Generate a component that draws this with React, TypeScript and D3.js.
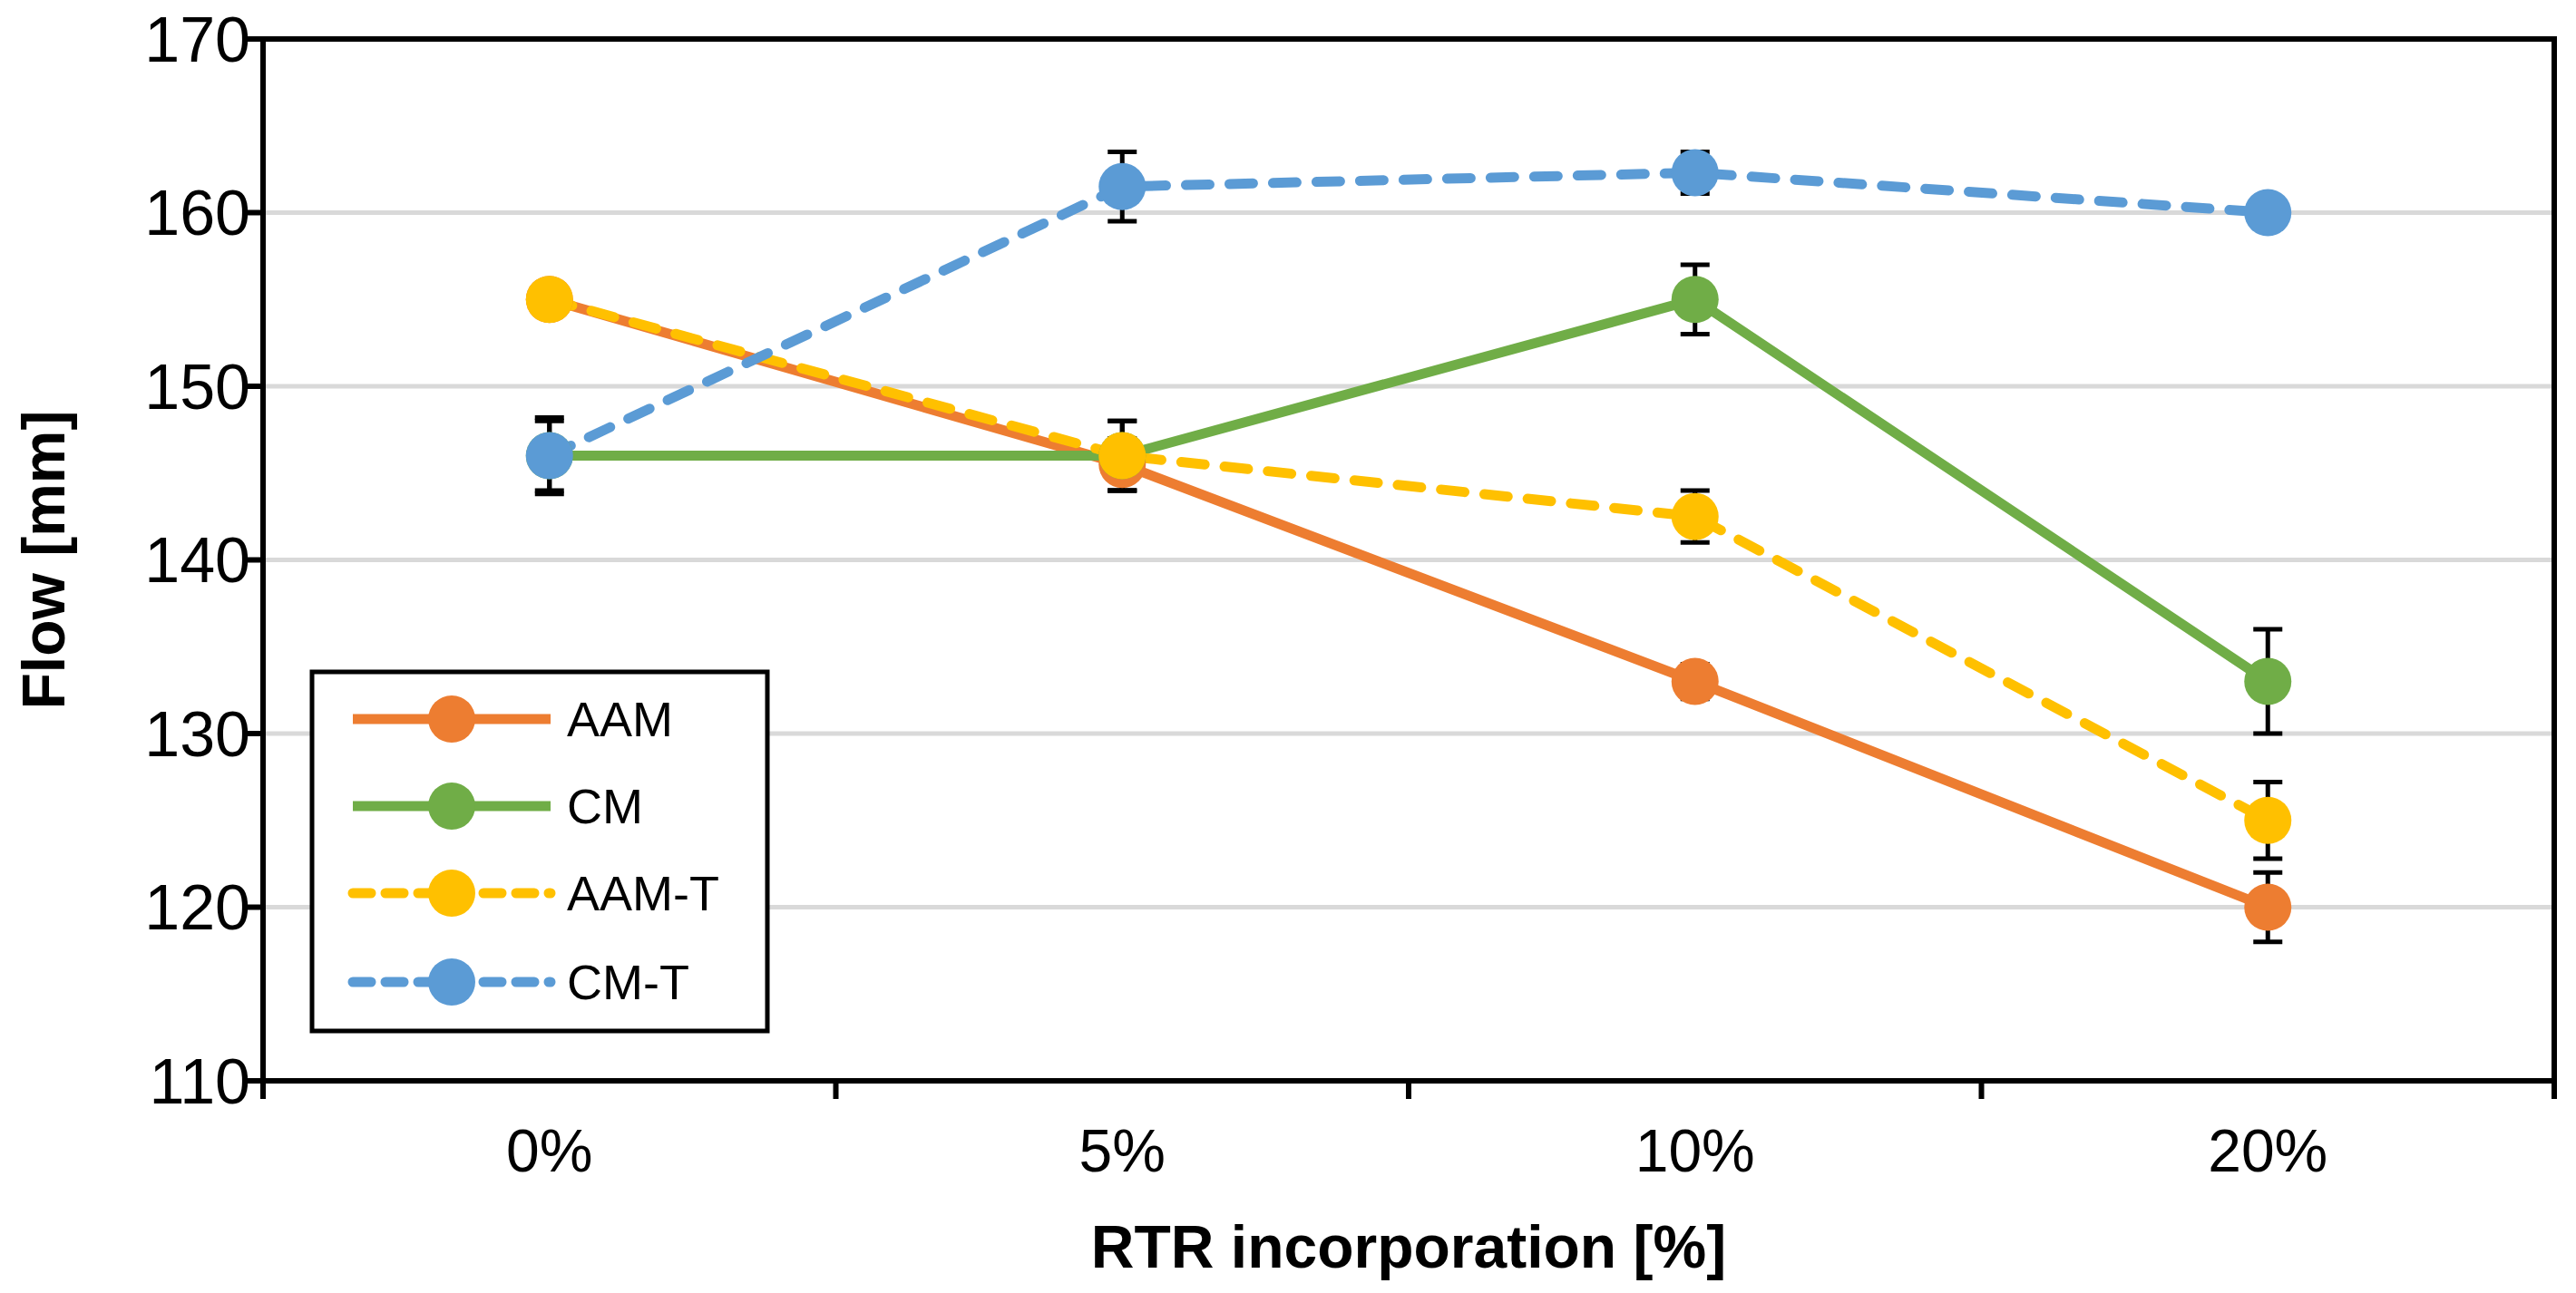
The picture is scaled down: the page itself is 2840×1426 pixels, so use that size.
import React from "react";
import * as d3 from "d3";

const categories = ["0%", "5%", "10%", "20%"];
const yTicks = [110, 120, 130, 140, 150, 160, 170];
const seriesNames = ["AAM", "CM", "AAM-T", "CM-T"];
const aam = [155, 145.5, 133, 120];
const aamErr = [0, 1.5, 1, 2];
const cm = [146, 146, 155, 133];
const cmErr = [2, 2, 2, 3];
const aamT = [155, 146, 142.5, 125];
const aamTErr = [0, 2, 1.5, 2.2];
const cmT = [146, 161.5, 162.3, 160];
const cmTErr = [2.2, 2, 1.2, 0];

const W = 2840, H = 1426;
const L = 290, R = 2816, T = 43, B = 1192;
const font = "Liberation Sans, Arial, sans-serif";

export default function App() {
  const x = d3.scaleBand<string>().domain(categories).range([L, R]);
  const y = d3.scaleLinear().domain([110, 170]).range([B, T]);
  const cx = (c: string) => (x(c) as number) + x.bandwidth() / 2;
  const series = [
    { name: seriesNames[0], v: aam, e: aamErr, color: "#ED7D31", dash: null },
    { name: seriesNames[1], v: cm, e: cmErr, color: "#70AD47", dash: null },
    { name: seriesNames[2], v: aamT, e: aamTErr, color: "#FFC000", dash: "26,22" },
    { name: seriesNames[3], v: cmT, e: cmTErr, color: "#5B9BD5", dash: "26,22" },
  ];
  const line = d3.line<number>().x((_, i) => cx(categories[i])).y((d) => y(d));
  const legY = [793, 889, 985, 1083];
  return (
    <svg width={W} height={H} style={{ position: "absolute", left: 0, top: 0, background: "#fff" }} fontFamily={font}>
      {yTicks.slice(1).map((t) => (
        <line key={t} x1={L} x2={R} y1={y(t)} y2={y(t)} stroke="#d9d9d9" strokeWidth={5} />
      ))}
      <line x1={L} x2={L} y1={T - 3} y2={B + 3} stroke="#000" strokeWidth={6} />
      <line x1={R} x2={R} y1={T - 3} y2={B + 20} stroke="#000" strokeWidth={6} />
      <line x1={L - 3} x2={R + 3} y1={B} y2={B} stroke="#000" strokeWidth={6} />
      <line x1={L - 3} x2={R + 3} y1={T} y2={T} stroke="#000" strokeWidth={6} />
      {yTicks.map((t) => (
        <g key={t}>
          <line x1={L - 20} x2={L} y1={y(t)} y2={y(t)} stroke="#000" strokeWidth={6} />
          <text x={L - 14} y={y(t)} dy="0.35em" textAnchor="end" fontSize={70}>{t}</text>
        </g>
      ))}
      {[...categories.map((c) => x(c) as number), R].map((v, i) => (
        <line key={i} x1={v} x2={v} y1={B} y2={B + 20} stroke="#000" strokeWidth={6} />
      ))}
      {categories.map((c) => (
        <text key={c} x={cx(c)} y={B + 100} textAnchor="middle" fontSize={66}>{c}</text>
      ))}
      <text x={(L + R) / 2} y={1398} textAnchor="middle" fontSize={66} fontWeight="bold">RTR incorporation [%]</text>
      <text transform={`translate(48,${(T + B) / 2}) rotate(-90)`} textAnchor="middle" dy="0.35em" fontSize={66} fontWeight="bold">Flow [mm]</text>
      {series.map((s) => (
        <path key={s.name} d={line(s.v) as string} fill="none" stroke={s.color} strokeWidth={11}
          strokeDasharray={s.dash ?? undefined} strokeLinecap={s.dash ? "round" : "butt"} />
      ))}
      {series.map((s) => s.v.map((v, i) => s.e[i] > 0 ? (
        <g key={s.name + i} stroke="#000" strokeWidth={5}>
          <line x1={cx(categories[i])} x2={cx(categories[i])} y1={y(v - s.e[i])} y2={y(v + s.e[i])} />
          <line x1={cx(categories[i]) - 16} x2={cx(categories[i]) + 16} y1={y(v - s.e[i])} y2={y(v - s.e[i])} />
          <line x1={cx(categories[i]) - 16} x2={cx(categories[i]) + 16} y1={y(v + s.e[i])} y2={y(v + s.e[i])} />
        </g>
      ) : null))}
      {series.map((s) => s.v.map((v, i) => (
        <circle key={s.name + "c" + i} cx={cx(categories[i])} cy={y(v)} r={26} fill={s.color} />
      )))}
      <rect x={344} y={741} width={502} height={396} fill="#fff" stroke="#000" strokeWidth={5} />
      {series.map((s, i) => (
        <g key={s.name + "leg"}>
          <line x1={389} x2={607} y1={legY[i]} y2={legY[i]} stroke={s.color} strokeWidth={11}
            strokeDasharray={s.dash ? "20,16" : undefined} strokeLinecap={s.dash ? "round" : "butt"} />
          <circle cx={498} cy={legY[i]} r={26} fill={s.color} />
          <text x={625} y={legY[i]} dy="0.35em" fontSize={54}>{s.name}</text>
        </g>
      ))}
    </svg>
  );
}
